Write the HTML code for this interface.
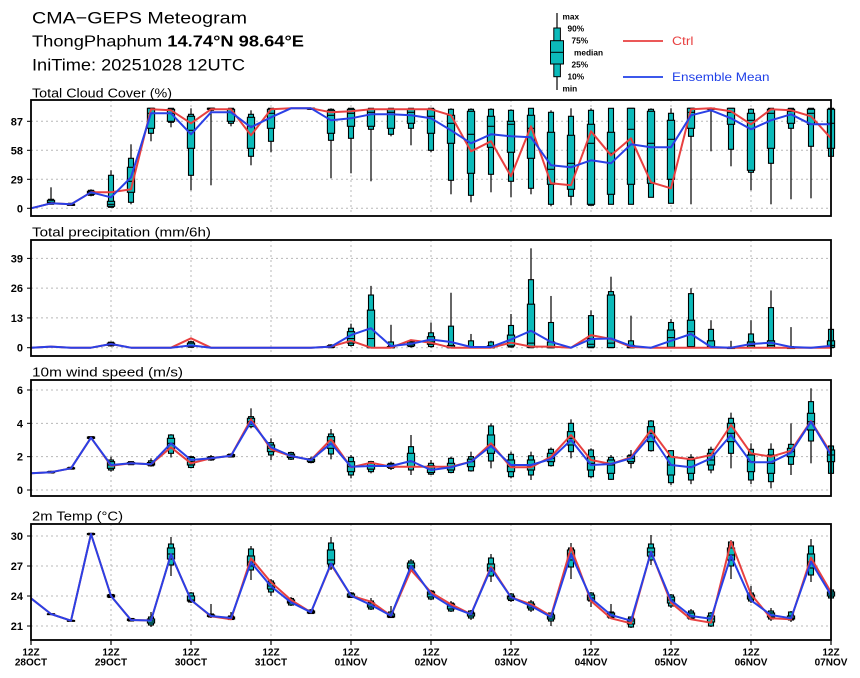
<!DOCTYPE html>
<html><head><meta charset="utf-8">
<style>
html,body{margin:0;padding:0;background:#fff;}
svg{display:block;}
text{font-family:"Liberation Sans","DejaVu Sans",sans-serif;}
</style></head>
<body>
<svg id="c" xmlns="http://www.w3.org/2000/svg" width="860" height="678" viewBox="0 0 860 678">
<rect x="0" y="0" width="860" height="678" fill="#fff"/>
<text x="32" y="23.3" font-size="17" textLength="215" lengthAdjust="spacingAndGlyphs">CMA−GEPS Meteogram</text>
<text x="32" y="46.7" font-size="16" textLength="272" lengthAdjust="spacingAndGlyphs">ThongPhaphum <tspan font-weight="bold">14.74°N 98.64°E</tspan></text>
<text x="32" y="70.5" font-size="16.5" textLength="213" lengthAdjust="spacingAndGlyphs">IniTime: 20251028 12UTC</text>
<text x="32" y="97.5" font-size="12.5" textLength="140" lengthAdjust="spacingAndGlyphs">Total Cloud Cover (%)</text>
<text x="32" y="236.5" font-size="12.5" textLength="179" lengthAdjust="spacingAndGlyphs">Total precipitation (mm/6h)</text>
<text x="32" y="376.5" font-size="12.5" textLength="151" lengthAdjust="spacingAndGlyphs">10m wind speed (m/s)</text>
<text x="32" y="520.7" font-size="12.5" textLength="91" lengthAdjust="spacingAndGlyphs">2m Temp (°C)</text>
<!-- legend -->
<line x1="557" y1="13" x2="557" y2="90" stroke="#000" stroke-width="1.2"/>
<rect x="553.8" y="28" width="6.6" height="48.7" fill="#0cbaba" stroke="#000" stroke-width="1"/>
<rect x="550.5" y="40.7" width="13" height="23.3" fill="#0cbaba" stroke="#000" stroke-width="1"/>
<line x1="550.5" y1="52.3" x2="563.5" y2="52.3" stroke="#000" stroke-width="1"/>
<g font-size="8.3" font-weight="bold">
<text x="562.5" y="19.3">max</text>
<text x="567.5" y="31.7">90%</text>
<text x="571.5" y="43.3">75%</text>
<text x="574" y="55.7">median</text>
<text x="571.5" y="67.7">25%</text>
<text x="567.5" y="79.3">10%</text>
<text x="562.5" y="91.7">min</text>
</g>
<line x1="623" y1="41" x2="663" y2="41" stroke="#e84040" stroke-width="1.8"/>
<text x="672" y="45" font-size="12" fill="#e84040" textLength="21.5" lengthAdjust="spacingAndGlyphs">Ctrl</text>
<line x1="623" y1="77" x2="663" y2="77" stroke="#2040e8" stroke-width="1.8"/>
<text x="672" y="81" font-size="12" fill="#2040e8" textLength="97.5" lengthAdjust="spacingAndGlyphs">Ensemble Mean</text>
<g id="plots"></g>
</svg>
<script>
(function(){
var NS='http://www.w3.org/2000/svg';
var g=document.getElementById('plots');
function el(t,a,p){var e=document.createElementNS(NS,t);for(var k in a)e.setAttribute(k,a[k]);(p||g).appendChild(e);return e;}
function X(i){return 31+20*i;}
var FILL='#0cbaba';
var P=[
{top:100,bot:216,y:function(v){return 208.3-v;},ticks:[[0,'0'],[29,'29'],[58,'58'],[87,'87']],
ctrl:[0,5,4,16,16,19,99,98,85,99,99,73,99,100,100,96,97,99,99,99,99,93,57,67,32,82,25,23,77,53,70,26,20,99,100,97,84,99,98,92,70],
mean:[0,5,4,16,11,31,95,95,74,96,96,81,91,100,100,88,90,94,94,93,90,78,65,74,72,71,43,41,48,45,64,61,61,93,98,90,79,88,94,84,84],
box:[null,[4,4,5,6,8,9,21],[3,3,3,4,4,5,5],[12,13,14,16,17,18,19],[1,1,2,4,7,33,38],[4,6,16,27,41,50,64],[67,75,80,95,100,100,100],[81,86,87,95,99,100,100],[18,33,60,78,92,94,100],[23,98,99,100,100,100,100],[82,85,87,96,99,100,100],[43,52,60,82,91,94,98],[56,67,80,95,99,100,100],null,[99,99,99,100,100,100,100],[30,68,75,93,98,99,100],[35,70,82,95,99,100,100],[27,79,82,96,99,100,100],[72,74,80,96,99,100,100],[63,80,85,96,99,100,100],[56,58,75,92,99,100,100],[14,28,65,85,93,99,100],[6,13,35,74,97,99,100],[16,34,61,82,92,99,100],[11,27,56,84,87,98,99],[14,20,50,80,93,100,100],[2,4,24,39,76,96,98],[3,12,19,45,73,92,100],[3,3,4,65,84,98,100],[4,4,14,55,76,100,100],[4,4,24,79,100,100,100],[11,11,25,65,97,99,100],[5,5,29,69,88,95,100],[4,72,80,96,100,100,100],[57,99,99,100,100,100,100],[42,59,84,96,100,100,100],[18,36,38,88,95,99,100],[4,45,60,95,99,100,100],[9,80,85,97,99,100,100],[10,62,84,95,99,100,100],[52,52,60,85,99,100,100]]},
{top:240,bot:356,y:function(v){return 347.7-2.29*v;},ticks:[[0,'0'],[13,'13'],[26,'26'],[39,'39']],
ctrl:[0,0.5,0,0,1.6,0,0,0,4.1,0,0,0,0,0,0,0.5,3,0,0,3.3,2.2,0,0,0,2.2,0.5,0.5,0,5.5,3.8,0.3,0,0,0,0,0,0,0,0,0,0],
mean:[0,0.5,0,0,1.6,0,0,0,1.0,0,0,0,0,0,0,0.5,5.5,8.5,0.7,1.7,3.6,2.5,0.3,0.3,3.6,7.4,2.5,0,3.8,4,0.8,0,3,6,0.3,0,1.6,2.2,0.3,0,0.8],
box:[null,null,null,null,[0.5,0.8,1.0,1.5,2.0,2.4,2.6],null,null,null,[0,0.2,0.5,1.0,2.0,2.6,3],null,null,null,null,null,null,[0,0,0.2,0.5,0.9,1.2,1.5],[0.5,1,2,4,7,8.5,10.5],[0,0,0,4,16.4,23,27],[0,0,0,0,0.5,2.5,10],[0,0.5,0.8,1.5,2.5,2.8,3],[0,0.5,1.5,2.5,4.8,6.5,11],[0,0,0,0.3,1,9.4,24],[0,0,0,0,0.5,3,6],[0,0,0,0,0.8,2.5,3],[0,0.3,0.8,2.2,5.5,9.7,14.7],[0,0,0.2,2,19,29.7,43.4],[0,0,0,0.5,2.5,11,22.6],null,[0,0,0.3,1.5,4,14,16.3],[0,0,0.1,2,23,24.5,31],[0,0,0,0.3,1,3,14],null,[0,0,0.3,4.4,7.7,11,12.5],[0,0,0.5,7,12,23.6,26],[0,0,0,0.5,3,8,12],[0,0,0,0,0,0.3,3],[0,0,0.2,1,2.5,6,12],[0,0,0.2,1,3,17.5,25],[0,0,0,0,0,0.5,9],null,[0,0,0.2,1,3,8,9]]},
{top:380,bot:496,y:function(v){return 490-16.67*v;},ticks:[[0,'0'],[2,'2'],[4,'4'],[6,'6']],
ctrl:[1.0,1.07,1.3,3.14,1.46,1.6,1.55,2.56,1.6,1.9,2.06,4.24,2.44,2.04,1.8,3.04,1.36,1.64,1.4,1.4,1.4,1.4,1.7,2.8,1.36,1.36,2.0,3.3,1.8,1.56,1.96,3.6,2.0,1.84,2.1,3.9,2.2,2.0,2.36,4.14,2.2],
mean:[1.0,1.07,1.3,3.14,1.5,1.6,1.55,2.8,1.8,1.9,2.06,4.1,2.56,2.04,1.8,2.8,1.4,1.44,1.44,1.74,1.2,1.36,1.7,2.64,1.5,1.5,1.86,3.0,1.5,1.56,1.9,3.3,1.5,1.36,1.9,3.3,1.66,1.66,2.24,4.1,2.1],
box:[null,[1.0,1.02,1.04,1.07,1.1,1.12,1.15],[1.22,1.25,1.27,1.3,1.33,1.36,1.4],[3.05,3.08,3.1,3.14,3.18,3.2,3.22],[1.1,1.2,1.3,1.5,1.7,1.8,2.0],[1.5,1.52,1.55,1.6,1.65,1.7,1.72],[1.4,1.45,1.5,1.55,1.65,1.75,1.9],[1.95,2.2,2.5,2.8,3.1,3.3,3.35],[1.3,1.35,1.5,1.7,1.95,2.0,2.05],[1.75,1.8,1.85,1.9,1.97,2.0,2.1],[1.95,1.98,2.0,2.06,2.12,2.15,2.2],[3.7,3.8,3.95,4.1,4.3,4.4,4.9],[1.8,2.1,2.3,2.5,2.7,2.84,3.1],[1.8,1.85,1.95,2.05,2.15,2.25,2.3],[1.6,1.65,1.7,1.8,1.85,1.88,2.0],[1.84,2.16,2.5,2.95,3.2,3.36,3.66],[0.7,0.9,1.1,1.4,1.7,1.96,2.1],[1.0,1.1,1.25,1.45,1.6,1.7,1.75],[1.2,1.3,1.35,1.45,1.55,1.6,1.7],[0.9,1.2,1.4,1.7,2.2,2.6,3.3],[0.9,0.95,1.05,1.25,1.45,1.6,1.8],[1.0,1.05,1.2,1.4,1.6,1.9,2.0],[1.1,1.15,1.4,1.7,1.85,2.0,2.3],[1.3,1.74,2.2,2.7,3.3,3.84,4.0],[0.7,0.8,1.1,1.4,1.8,2.14,2.3],[0.6,0.9,1.2,1.45,1.8,2.05,2.3],[1.4,1.46,1.7,1.9,2.2,2.44,2.55],[1.9,2.3,2.7,3.1,3.5,4.0,4.24],[0.7,0.8,1.2,1.6,2.0,2.4,2.5],[0.6,0.64,1.0,1.5,1.8,1.96,2.1],[1.3,1.6,1.7,1.9,2.05,2.1,2.4],[2.3,2.36,2.9,3.4,3.8,4.14,4.2],[0.3,0.44,0.9,1.5,2.0,2.36,2.4],[0.35,0.6,1.0,1.4,1.8,1.96,2.15],[1.0,1.2,1.5,1.8,2.2,2.44,2.6],[1.3,2.2,2.9,3.4,4.0,4.3,4.64],[0.35,0.6,1.1,1.7,2.1,2.44,2.8],[0.1,0.5,1.0,1.6,2.1,2.44,2.8],[0.9,1.54,2.0,2.3,2.5,2.74,4.0],[1.6,2.94,3.6,4.1,4.6,5.3,6.1],[1.0,1.0,1.7,2.1,2.4,2.64,2.7]]},
{top:524,bot:640,y:function(v){return 626-10*(v-21);},ticks:[[21,'21'],[24,'24'],[27,'27'],[30,'30']],
ctrl:[23.77,22.2,21.53,30.2,24.0,21.6,21.55,28.17,23.6,21.97,21.67,27.77,25.37,23.6,22.37,27.17,24.03,23.43,22.03,26.6,24.37,23.17,22.17,26.93,23.87,23.17,22.0,28.83,23.5,21.77,21.27,28.43,23.33,21.67,21.33,29.43,24.17,21.77,21.67,27.83,24.37],
mean:[23.77,22.2,21.53,30.2,24.0,21.6,21.55,28.17,23.6,22.0,21.8,27.37,24.97,23.37,22.37,27.25,24.03,23.1,22.03,27.0,24.17,22.93,22.17,26.77,23.87,23.0,21.9,28.17,23.77,22.1,21.53,28.4,23.57,22.0,21.73,28.03,23.57,22.1,21.77,27.43,24.1],
box:[null,[22.15,22.17,22.18,22.2,22.22,22.23,22.25],[21.48,21.5,21.52,21.53,21.55,21.57,21.6],[30.1,30.12,30.15,30.2,30.25,30.27,30.3],[23.8,23.85,23.9,24.0,24.1,24.15,24.2],[21.45,21.5,21.55,21.6,21.7,21.75,21.8],[20.9,21.1,21.3,21.5,21.7,21.9,22.4],[26.0,27.1,27.7,28.2,28.8,29.2,29.9],[23.3,23.4,23.5,23.6,24.0,24.3,24.4],[21.8,21.9,21.95,22.0,22.1,22.2,23.2],[21.6,21.65,21.7,21.8,21.9,22.0,22.4],[25.6,26.6,27.0,27.4,28.0,28.7,29.0],[24.0,24.4,24.7,25.0,25.3,25.5,25.7],[23.0,23.1,23.3,23.4,23.6,23.75,23.9],[22.2,22.25,22.3,22.4,22.5,22.6,22.7],[26.6,26.8,27.2,27.6,28.6,29.3,29.9],[23.8,23.85,23.9,24.0,24.2,24.3,24.4],[22.6,22.7,22.9,23.1,23.3,23.5,23.8],[21.8,21.85,21.9,22.0,22.2,22.4,23.0],[26.5,26.6,26.8,27.0,27.3,27.5,27.7],[23.6,23.7,23.9,24.2,24.4,24.5,24.6],[22.4,22.5,22.7,23.0,23.2,23.3,23.5],[21.6,21.8,22.0,22.2,22.3,22.5,22.6],[25.4,26.0,26.5,26.8,27.2,27.8,28.2],[23.4,23.55,23.7,23.9,24.0,24.2,24.3],[22.4,22.6,22.8,23.0,23.2,23.4,23.6],[21.0,21.5,21.7,21.9,22.1,22.3,22.3],[25.7,26.9,27.6,28.2,28.6,28.8,29.3],[22.9,23.5,23.6,23.8,24.1,24.3,24.4],[21.7,21.8,21.9,22.1,22.3,22.4,23.2],[20.8,20.9,21.2,21.5,21.7,21.9,21.9],[27.1,27.6,28.0,28.4,28.8,29.2,30.1],[22.8,23.0,23.3,23.6,23.9,24.1,24.2],[21.6,21.7,21.8,22.0,22.3,22.5,22.7],[20.9,21.0,21.4,21.7,22.0,22.3,22.4],[25.7,27.0,27.6,28.1,28.8,29.4,29.6],[23.3,23.5,23.7,23.9,24.1,24.3,25.0],[21.5,21.7,21.9,22.1,22.3,22.5,22.8],[21.4,21.6,21.7,21.8,22.0,22.4,22.5],[25.4,26.1,26.8,27.4,28.2,29.0,29.7],[23.5,23.8,24.0,24.2,24.4,24.6,24.7]]}
];
P.forEach(function(p,pi){
  var L=31,R=831;
  p.ticks.forEach(function(t){var y=p.y(t[0]);
    el('line',{x1:L,y1:y,x2:R,y2:y,stroke:'#b8b8b8','stroke-width':1,'stroke-dasharray':'2 3'});
    el('line',{x1:27,y1:y,x2:L,y2:y,stroke:'#000','stroke-width':1});
    var tx=el('text',{x:23,y:y+4,'font-size':11,'font-weight':'bold','text-anchor':'end'});tx.textContent=t[1];
  });
  for(var d=1;d<10;d++){var x=L+80*d;
    el('line',{x1:x,y1:p.top,x2:x,y2:p.bot,stroke:'#b8b8b8','stroke-width':1,'stroke-dasharray':'2 3'});}
  p.box.forEach(function(b,i){ if(!b)return; var x=X(i);
    el('line',{x1:x,y1:p.y(b[6]),x2:x,y2:p.y(b[0]),stroke:'#000','stroke-width':1.2});
    var y90=p.y(b[5]),y10=p.y(b[1]);
    el('rect',{x:x-2.5,y:y90,width:5,height:Math.max(0.8,y10-y90),fill:FILL,stroke:'#000','stroke-width':1.1});
    var y75=p.y(b[4]),y25=p.y(b[2]);
    el('rect',{x:x-3.6,y:y75,width:7.2,height:Math.max(0.8,y25-y75),fill:FILL,stroke:'#000','stroke-width':1.1});
    var ym=p.y(b[3]);
    el('line',{x1:x-3.6,y1:ym,x2:x+3.6,y2:ym,stroke:'#000','stroke-width':1.1});
  });
  function poly(arr,col){var s=arr.map(function(v,i){return X(i)+','+p.y(v).toFixed(1);}).join(' ');
    el('polyline',{points:s,fill:'none',stroke:col,'stroke-width':2,'stroke-linejoin':'round'});}
  poly(p.ctrl,'#e84040');
  poly(p.mean,'#2a40e6');
  el('rect',{x:L,y:p.top,width:R-L,height:p.bot-p.top,fill:'none',stroke:'#000','stroke-width':1.8});
});
var days=['28OCT','29OCT','30OCT','31OCT','01NOV','02NOV','03NOV','04NOV','05NOV','06NOV','07NOV'];
for(var d=0;d<=10;d++){var x=31+80*d;
  el('line',{x1:x,y1:640,x2:x,y2:645,stroke:'#000','stroke-width':1.2});
  var t1=el('text',{x:x,y:655.7,'font-size':10,'font-weight':'bold','text-anchor':'middle'});t1.textContent='12Z';
  var t2=el('text',{x:x,y:665.7,'font-size':10,'font-weight':'bold','text-anchor':'middle'});t2.textContent=days[d];
}
})();
</script>
</body></html>
